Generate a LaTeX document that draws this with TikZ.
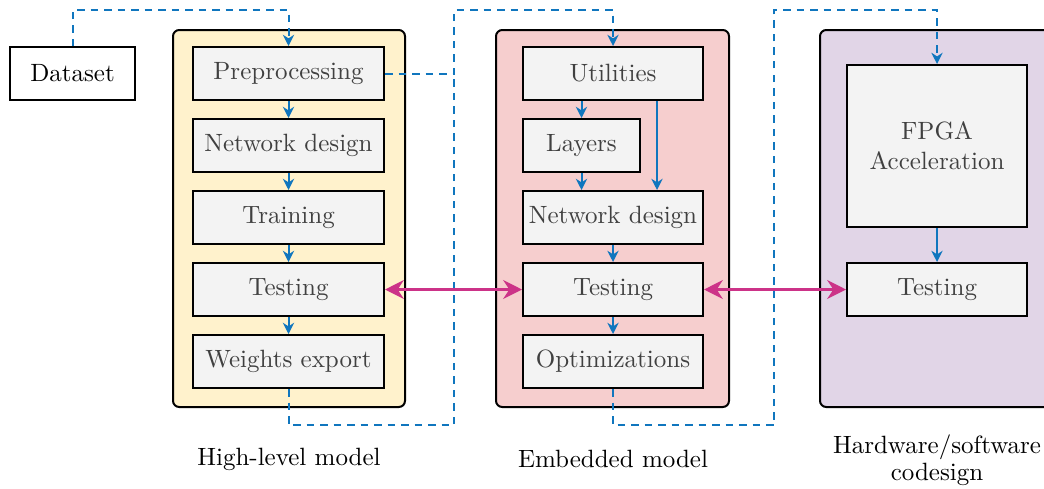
\documentclass[tikz,border=0pt]{standalone}
\usetikzlibrary{arrows.meta,calc}
\definecolor{cblue}{RGB}{16,118,190}
\definecolor{cmag}{RGB}{204,51,136}
\definecolor{cyel}{RGB}{255,242,204}
\definecolor{cred}{RGB}{246,206,206}
\definecolor{cpur}{RGB}{225,213,231}
\definecolor{cgray}{RGB}{243,243,243}
\definecolor{ctext}{RGB}{64,64,64}
\begin{document}
\begin{tikzpicture}[x=0.4pt,y=-0.4pt,
  container/.style={draw=black, line width=0.8pt, rounded corners=2.5pt, inner sep=0pt, minimum height=150.8pt},
  gbox/.style={draw=black, line width=0.8pt, fill=cgray, text=ctext, minimum height=21.2pt, inner sep=0pt},
  flow/.style={cblue, line width=0.8pt, -{Stealth[length=4.5pt,width=4.5pt]}},
  dflow/.style={cblue, line width=0.8pt, dash pattern=on 3pt off 2.4pt, -{Stealth[length=4.5pt,width=4.5pt]}},
  dline/.style={cblue, line width=0.8pt, dash pattern=on 3pt off 2.4pt},
  link/.style={cmag, line width=1.3pt, {Stealth[length=7.5pt,width=7.5pt]}-{Stealth[length=7.5pt,width=7.5pt]}},
  lbl/.style={text=black, align=center}
]
\useasboundingbox (0,0) rectangle (1044,488);
\clip (0,0) rectangle (1044,488);
% containers
\node[container, fill=cyel, minimum width=92.8pt] (cy) at (289,218.5) {};
\node[container, fill=cred, minimum width=93.2pt] (cr) at (612.5,218.5) {};
\node[container, fill=cpur, minimum width=96pt] (cp) at (940,218.5) {};
% dataset
\node[draw=black, line width=0.8pt, minimum width=50pt, minimum height=21.2pt, inner sep=0pt] (data) at (72.5,73.5) {Dataset};
% high-level model
\node[gbox, minimum width=76.4pt] (p1) at (288.5,73.5) {Preprocessing};
\node[gbox, minimum width=76.4pt] (p2) at (288.5,145.5) {Network design};
\node[gbox, minimum width=76.4pt] (p3) at (288.5,217.5) {Training};
\node[gbox, minimum width=76.4pt] (p4) at (288.5,289.5) {Testing};
\node[gbox, minimum width=76.4pt] (p5) at (288.5,361.5) {Weights export};
% embedded model
\node[gbox, minimum width=72pt] (u) at (613,73.5) {Utilities};
\node[gbox, minimum width=46.8pt] (l) at (581.5,145.5) {Layers};
\node[gbox, minimum width=72pt] (nd) at (613,217.5) {Network design};
\node[gbox, minimum width=72pt] (t2) at (613,289.5) {Testing};
\node[gbox, minimum width=72pt] (o) at (613,361.5) {Optimizations};
% hw/sw
\node[gbox, minimum width=72pt, minimum height=64.8pt, align=center] (f) at (937,146) {FPGA\\Acceleration};
\node[gbox, minimum width=72pt] (t3) at (937,289.5) {Testing};
% solid flows
\draw[flow] (p1) -- (p2);
\draw[flow] (p2) -- (p3);
\draw[flow] (p3) -- (p4);
\draw[flow] (p4) -- (p5);
\draw[flow] (l.north |- u.south) -- (l.north);
\draw[flow] (l) -- (l.south |- nd.north);
\draw[flow] ($(u.south)+(44,0)$) -- ($(nd.north)+(44,0)$);
\draw[flow] (nd) -- (t2);
\draw[flow] (t2) -- (o);
\draw[flow] (f) -- (t3);
% dashed links
\coordinate (j1) at ($(p1.east)+(69,0)$);
\coordinate (b1) at ($(p5.south)+(0,36)$);
\coordinate (b2) at ($(o.south)+(0,36)$);
\coordinate (j2) at ($(b2)+(161,0)$);
\draw[dflow] (data.north) |- ($(p1.north)+(0,-36)$) -- (p1.north);
\draw[dflow] (p1.east) -- (j1) |- ($(u.north)+(0,-36)$) -- (u.north);
\draw[dline] (p5.south) -- (b1) -| (j1);
\draw[dflow] (o.south) -- (b2) -- (j2) |- ($(f.north)+(0,-54)$) -- (f.north);
% magenta links
\draw[link] (p4.east) -- (t2.west);
\draw[link] (t2.east) -- (t3.west);
% labels
\node[lbl] (lh) at (289,459) {High-level model};
\node[lbl] (le) at (613,459) {Embedded model};
\node[lbl] (lw) at (937,460.5) {Hardware/software\\[-1.2pt]codesign};
\end{tikzpicture}
\end{document}
